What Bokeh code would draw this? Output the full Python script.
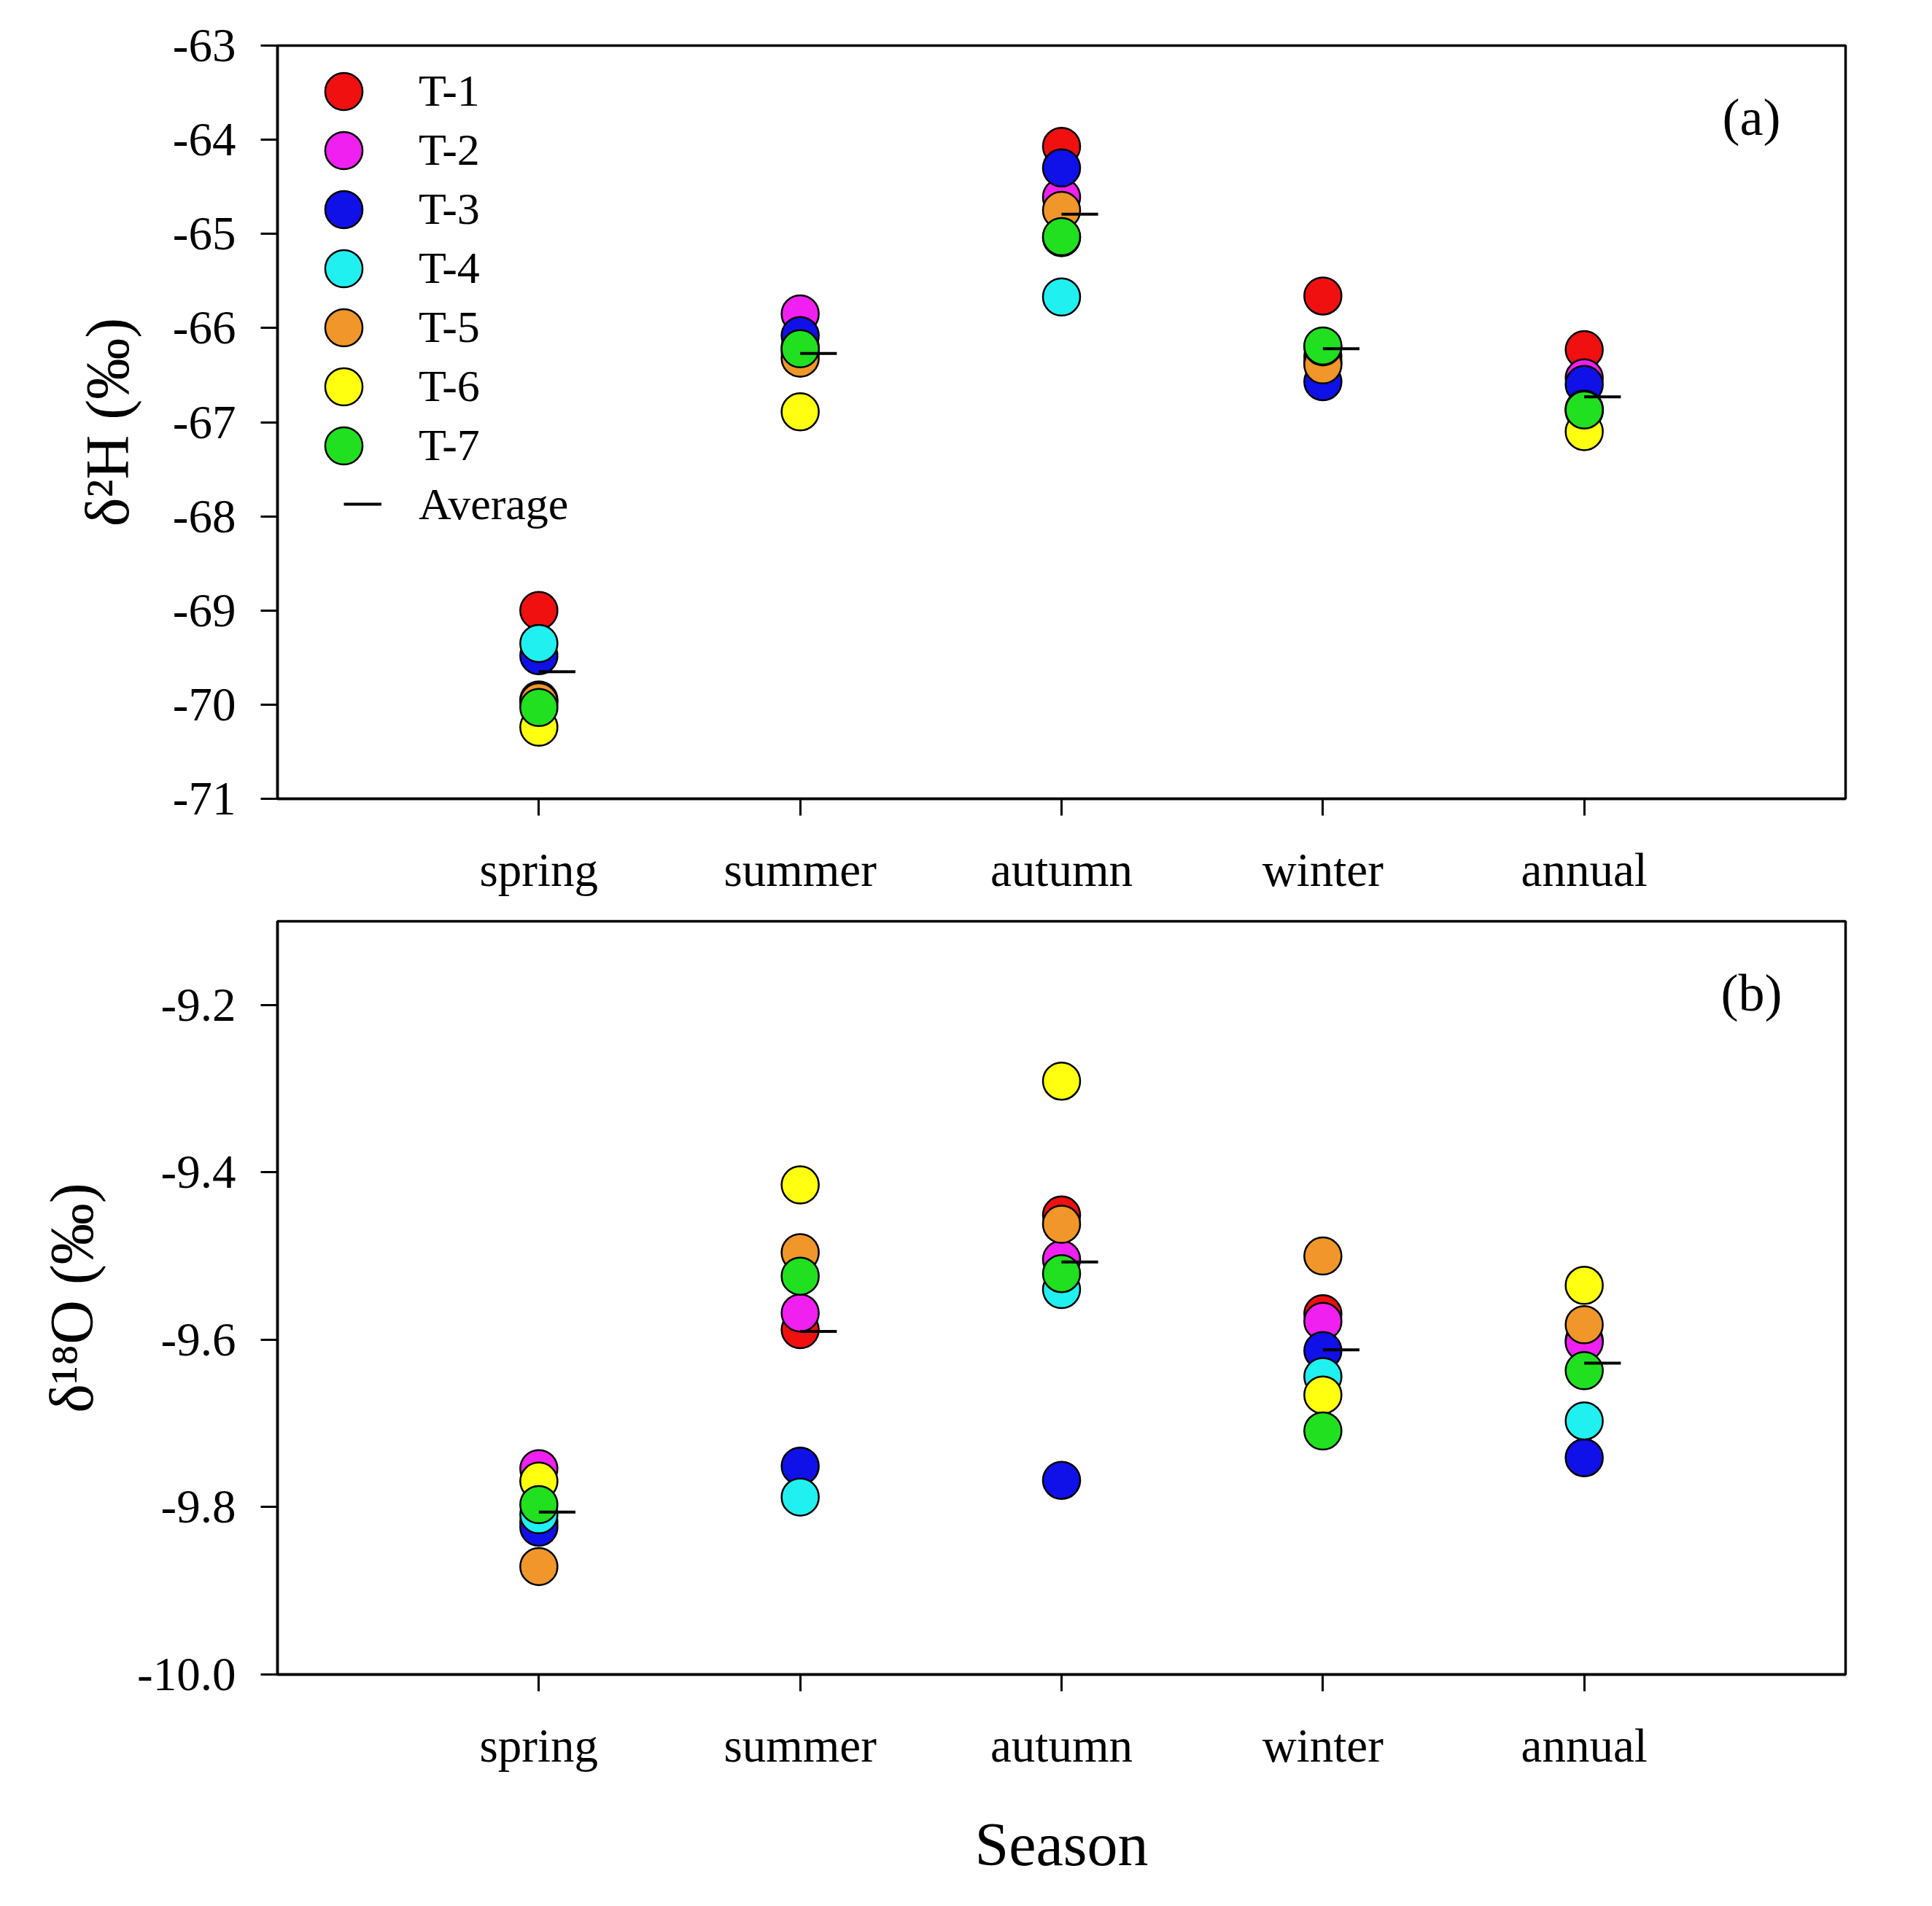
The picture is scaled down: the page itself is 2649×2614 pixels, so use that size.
from bokeh.plotting import figure
from bokeh.models import Range1d, FixedTicker, Legend, LegendItem, Label, PrintfTickFormatter
from bokeh.layouts import column
from bokeh.embed import file_html
from bokeh.resources import INLINE

FONT = "Liberation Serif"

# ---------------- data ----------------
seasons = ["spring", "summer", "autumn", "winter", "annual"]
series_names = ["T-1", "T-2", "T-3", "T-4", "T-5", "T-6", "T-7"]
series_colors = ["#F01010", "#F020F0", "#1010E8", "#20F0F0", "#F0962A", "#FFFF10", "#20E020"]

# delta 2H (permil)
d2H_T1 = [-69.00, -66.20, -64.07, -65.66, -66.23]
d2H_T2 = [-69.95, -65.85, -64.61, -66.30, -66.53]
d2H_T3 = [-69.48, -66.08, -64.30, -66.57, -66.60]
d2H_T4 = [-69.35, -66.25, -65.67, -66.36, -66.86]
d2H_T5 = [-69.97, -66.32, -64.75, -66.39, -66.88]
d2H_T6 = [-70.24, -66.89, -65.04, -66.20, -67.10]
d2H_T7 = [-70.03, -66.22, -65.03, -66.19, -66.87]
d2H_avg = [-69.65, -66.27, -64.79, -66.22, -66.73]

# delta 18O (permil)
d18O_T1 = [-9.818, -9.588, -9.451, -9.569, -9.601]
d18O_T2 = [-9.754, -9.568, -9.504, -9.578, -9.603]
d18O_T3 = [-9.824, -9.751, -9.768, -9.613, -9.741]
d18O_T4 = [-9.809, -9.788, -9.540, -9.644, -9.697]
d18O_T5 = [-9.871, -9.496, -9.462, -9.500, -9.582]
d18O_T6 = [-9.769, -9.415, -9.291, -9.666, -9.535]
d18O_T7 = [-9.797, -9.524, -9.521, -9.709, -9.637]
d18O_avg = [-9.806, -9.590, -9.507, -9.612, -9.628]

d2H_ticks = [-71, -70, -69, -68, -67, -66, -65, -64, -63]
d18O_ticks = [-10.0, -9.8, -9.6, -9.4, -9.2]

d2H_series = [d2H_T1, d2H_T2, d2H_T3, d2H_T4, d2H_T5, d2H_T6, d2H_T7]
d18O_series = [d18O_T1, d18O_T2, d18O_T3, d18O_T4, d18O_T5, d18O_T6, d18O_T7]

positions = [i + 1 for i in range(len(seasons))]
AVG_LEN = 0.14
FRAME_W = 2150
FRAME_H = 1033


def make_fig(top, bottom, yr, yticks, ylabel, fmt, xlabel=None):
    p = figure(width=380 + FRAME_W + 95, height=top + FRAME_H + bottom, title=None,
               x_range=Range1d(0, len(seasons) + 1), y_range=Range1d(*yr),
               output_backend="svg", toolbar_location=None,
               min_border_left=380, min_border_right=95,
               min_border_top=top, min_border_bottom=bottom)
    p.xgrid.visible = False
    p.ygrid.visible = False
    p.outline_line_color = "black"
    p.outline_line_width = 3.5
    p.outline_line_alpha = 1
    p.xaxis.ticker = FixedTicker(ticks=positions)
    p.xaxis.major_label_overrides = {pos: s for pos, s in zip(positions, seasons)}
    p.yaxis.ticker = FixedTicker(ticks=yticks)
    p.yaxis.formatter = PrintfTickFormatter(format=fmt)
    for ax in (p.xaxis[0], p.yaxis[0]):
        ax.axis_line_width = 3.5
        ax.axis_line_color = "black"
        ax.major_tick_line_width = 3
        ax.major_tick_line_color = "black"
        ax.major_tick_out = 23
        ax.major_tick_in = 0
        ax.minor_tick_line_color = None
        ax.major_label_text_font = FONT
        ax.major_label_text_font_size = "65px"
        ax.major_label_text_color = "black"
        ax.axis_label_text_font = FONT
        ax.axis_label_text_font_style = "normal"
        ax.axis_label_text_font_size = "84px"
        ax.axis_label_text_color = "black"
    p.xaxis.major_label_standoff = 38
    p.yaxis.major_label_standoff = 34
    p.yaxis.axis_label = ylabel
    p.yaxis.axis_label_standoff = 40
    if xlabel:
        p.xaxis.axis_label = xlabel
        p.xaxis.axis_label_standoff = 50
    return p


def add_points(p, series, avg):
    rs = []
    for name, col, vals in zip(series_names, series_colors, series):
        r = p.scatter(x=positions, y=vals, size=51, marker="circle",
                      fill_color=col, line_color="black", line_width=2.5)
        rs.append(r)
    ra = p.segment(x0=positions, x1=[x + AVG_LEN for x in positions],
                   y0=avg, y1=avg, line_color="black", line_width=4)
    return rs, ra


pa = make_fig(62, 158, (-71, -63), d2H_ticks, "δ²H (‰)", "%d")
rs_a, ra_a = add_points(pa, d2H_series, d2H_avg)

pb = make_fig(10, 285, (-10.0, -9.1), d18O_ticks, "δ¹⁸O (‰)", "%.1f", "Season")
add_points(pb, d18O_series, d18O_avg)

LEG_STEP = 81
for i, (n, r) in enumerate(zip(series_names, rs_a)):
    leg = Legend(items=[LegendItem(label=n, renderers=[r])],
                 location=(27, FRAME_H - 126.5 - LEG_STEP * i),
                 glyph_width=128, glyph_height=128, label_height=128,
                 label_standoff=39, padding=0, margin=0,
                 border_line_alpha=0, background_fill_alpha=0,
                 label_text_font=FONT, label_text_font_size="62px",
                 label_text_color="black")
    pa.add_layout(leg, "center")

leg2 = Legend(items=[LegendItem(label="Average", renderers=[ra_a])],
              location=(91, 364), glyph_width=52, glyph_height=80, label_height=80,
              label_standoff=51, padding=0, margin=0,
              border_line_alpha=0, background_fill_alpha=0,
              label_text_font=FONT, label_text_font_size="62px",
              label_text_color="black")
pa.add_layout(leg2, "center")

pa.add_layout(Label(x=5.64, y=-63.76, text="(a)", text_font=FONT, text_font_size="72px",
                    text_color="black", text_align="center", text_baseline="middle"))
pb.add_layout(Label(x=5.64, y=-9.186, text="(b)", text_font=FONT, text_font_size="72px",
                    text_color="black", text_align="center", text_baseline="middle"))

layout = column(pa, pb, spacing=0)
open("out.html", "w").write(file_html(layout, INLINE))
